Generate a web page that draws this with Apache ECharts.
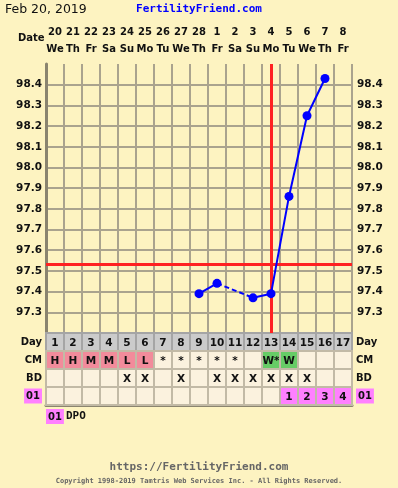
<!DOCTYPE html>
<html><head><meta charset="utf-8">
<script src="https://cdn.jsdelivr.net/npm/echarts@6/dist/echarts.min.js"></script>
<style>html,body{margin:0;padding:0;background:#fdf3c1;}#c{width:398px;height:488px;}</style>
</head><body><div id="c"></div>
<script>
const cycleDays = ['1','2','3','4','5','6','7','8','9','10','11','12','13','14','15','16','17'];
const dates = ['20','21','22','23','24','25','26','27','28','1','2','3','4','5','6','7','8'];
const weekdays = ['We','Th','Fr','Sa','Su','Mo','Tu','We','Th','Fr','Sa','Su','Mo','Tu','We','Th','Fr'];
const temps = [null,null,null,null,null,null,null,null,97.39,97.44,null,97.37,97.39,97.86,98.25,98.43,null];
const cmCodes = ['H','H','M','M','L','L','*','*','*','*','*','','W*','W','','',''];
const bdMarks = ['','','','','X','X','','X','','X','X','X','X','X','X','',''];
const dpoLabels = ['','','','','','','','','','','','','','1','2','3','4'];
const tableRows = ['Day','CM','BD','01'];
const coverline = 97.53;
const ovulationDay = '13';
const yTicksShown = ['97.3','97.4','97.5','97.6','97.7','97.8','97.9','98.0','98.1','98.2','98.3','98.4'];

// dashed link across missing temperature
const dashed = temps.map(()=>null);
for(let i=1;i<temps.length-1;i++){
  if(temps[i]===null && temps[i-1]!==null && temps[i+1]!==null){dashed[i-1]=temps[i-1];dashed[i+1]=temps[i+1];}
}

const bg = '#fdf3c1';
const gridCol = '#aaa38e';
const darkCol = '#8a846f';
const sans = 'DejaVu Sans';
const mono = 'DejaVu Sans Mono';

function cellColor(row, i){
  if(row===0) return '#cbcbcb';
  if(row===1){
    const c = cmCodes[i];
    if(c==='H'||c==='M'||c==='L') return '#f28b9b';
    if(c.indexOf('W')===0) return '#66cc66';
    return '#fbf2de';
  }
  if(row===3 && dpoLabels[i]!=='') return '#ff80ff';
  return '#fbf2de';
}
const tableData = [];
cycleDays.forEach((d,i)=>{
  tableData.push([i,0,d]);
  tableData.push([i,1,cmCodes[i]]);
  tableData.push([i,2,bdMarks[i]]);
  tableData.push([i,3,dpoLabels[i]]);
});

const splitColors = yTicksShown.map(()=>gridCol);
splitColors.unshift(darkCol); splitColors.push('rgba(0,0,0,0)');

const yLab = v => { const s = (+v).toFixed(1); return yTicksShown.indexOf(s)>=0 ? s : ''; };
const rowLabelFmt = v => v==='01' ? '{m|01}' : '{b|'+v+'}';
const rowRich = {
  b:{fontFamily:sans,fontWeight:'bold',fontSize:10,color:'#111'},
  m:{fontFamily:sans,fontWeight:'bold',fontSize:10,color:'#111',backgroundColor:'#ff80ff',padding:[3,2,2,2]}
};

const chart = echarts.init(document.getElementById('c'),null,{renderer:'canvas'});
chart.setOption({
  backgroundColor: bg,
  animation:false,
  title:[
    {text:'Feb 20, 2019',left:5,top:3,padding:0,textStyle:{fontFamily:sans,fontSize:12.5,fontWeight:'normal',color:'#111'}},
    {text:'FertilityFriend.com',left:'center',top:4,padding:0,textStyle:{fontFamily:mono,fontSize:11,fontWeight:'bold',color:'#0000ff'}},
    {text:'Date',left:18,top:33,padding:0,textStyle:{fontFamily:sans,fontSize:10,fontWeight:'bold',color:'#111'}},
    {text:'{m|01}{t|DPO}',left:46,top:409,padding:0,textStyle:{rich:{
      m:{fontFamily:sans,fontWeight:'bold',fontSize:10,color:'#111',backgroundColor:'#ff80ff',padding:[3,2,2,2]},
      t:{fontFamily:mono,fontWeight:'bold',fontSize:11,color:'#111',padding:[0,0,0,2]}}}},
    {text:'https://FertilityFriend.com',left:'center',top:462,padding:0,textStyle:{fontFamily:mono,fontSize:11,fontWeight:'bold',color:'#666'}},
    {text:'Copyright 1998-2019 Tamtris Web Services Inc. - All Rights Reserved.',left:'center',top:478,padding:0,textStyle:{fontFamily:mono,fontSize:7,fontWeight:'bold',color:'#666'}}
  ],
  grid:[
    {left:46,top:64,width:306,height:269,show:false},
    {left:46,top:333,width:306,height:72,show:false}
  ],
  xAxis:[
    {gridIndex:0,type:'category',data:cycleDays,position:'bottom',boundaryGap:true,
     axisLine:{show:false},axisTick:{show:false},axisLabel:{show:false},
     splitLine:{show:true,lineStyle:{color:gridCol,width:2}}},
    {gridIndex:0,type:'category',data:cycleDays,position:'top',boundaryGap:true,
     axisLine:{show:false},axisTick:{show:false},splitLine:{show:false},
     axisLabel:{show:true,interval:0,margin:6,
       formatter:(v,i)=>'{n|'+dates[i]+'}\n{d|'+weekdays[i]+'}',
       rich:{n:{fontFamily:sans,fontWeight:'bold',fontSize:10,color:'#111',lineHeight:17},
             d:{fontFamily:sans,fontWeight:'bold',fontSize:10,color:'#111',lineHeight:17}}}},
    {gridIndex:1,type:'category',data:cycleDays,boundaryGap:true,
     axisLine:{show:true,lineStyle:{color:darkCol,width:3}},axisTick:{show:false},axisLabel:{show:false},splitLine:{show:false}}
  ],
  yAxis:[
    {gridIndex:0,type:'value',min:97.2,max:98.5,interval:0.1,position:'left',
     axisLine:{show:true,lineStyle:{color:darkCol,width:3}},axisTick:{show:false},
     axisLabel:{formatter:yLab,margin:4,fontFamily:sans,fontWeight:'bold',fontSize:10.5,color:'#111'},
     splitLine:{show:true,lineStyle:{color:splitColors,width:2}}},
    {gridIndex:0,type:'value',min:97.2,max:98.5,interval:0.1,position:'right',
     axisLine:{show:false},axisTick:{show:false},splitLine:{show:false},
     axisLabel:{formatter:yLab,margin:5,fontFamily:sans,fontWeight:'bold',fontSize:10.5,color:'#111'}},
    {gridIndex:1,type:'category',data:tableRows,inverse:true,position:'left',
     axisLine:{show:true,lineStyle:{color:darkCol,width:3}},axisTick:{show:false},splitLine:{show:false},
     axisLabel:{formatter:rowLabelFmt,rich:rowRich,margin:4}},
    {gridIndex:1,type:'category',data:tableRows,inverse:true,position:'right',
     axisLine:{show:false},axisTick:{show:false},splitLine:{show:false},
     axisLabel:{formatter:rowLabelFmt,rich:rowRich,margin:4,align:'left'}}
  ],
  series:[
    {type:'line',xAxisIndex:0,yAxisIndex:0,data:dashed,connectNulls:true,symbol:'none',silent:true,
     lineStyle:{color:'#0000ff',width:2,type:[5,3]}},
    {type:'line',xAxisIndex:0,yAxisIndex:0,data:temps,connectNulls:false,symbol:'circle',symbolSize:9,
     itemStyle:{color:'#0000ff'},lineStyle:{color:'#0000ff',width:2},z:5,
     markLine:{silent:true,symbol:'none',label:{show:false},lineStyle:{color:'#ff2222',width:3,type:'solid'},
       data:[{yAxis:coverline},{xAxis:ovulationDay}]}},
    {type:'custom',xAxisIndex:2,yAxisIndex:2,data:tableData,
     renderItem:(params,api)=>{
       const i=api.value(0), r=api.value(1);
       const c=api.coord([i,r]); const s=api.size([1,1]);
       const txt=tableData[params.dataIndex][2];
       return {type:'group',children:[
         {type:'rect',shape:{x:c[0]-s[0]/2,y:c[1]-s[1]/2,width:s[0],height:s[1]},
          style:{fill:cellColor(r,i),stroke:r===0?'#a5a5a5':'#c2baa6',lineWidth:2}},
         {type:'text',style:{text:txt,x:c[0],y:c[1]+1,align:'center',verticalAlign:'middle',
          font:'bold 10.5px "DejaVu Sans"',fill:'#111'}}
       ]};
     }}
  ]
});
</script></body></html>
